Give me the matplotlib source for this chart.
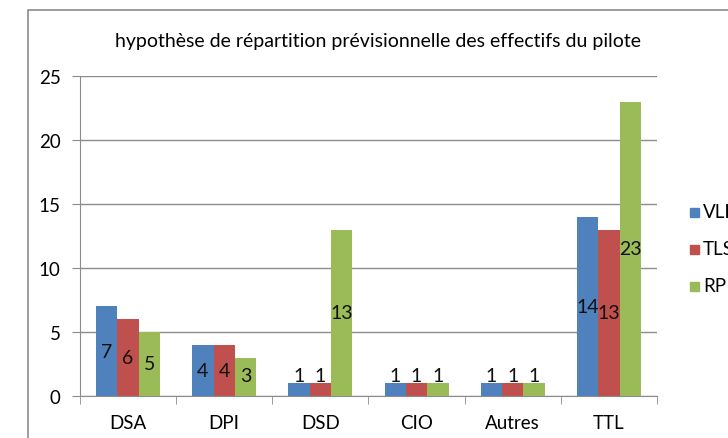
import matplotlib.pyplot as plt
from matplotlib.patches import Rectangle
import numpy as np

plt.rcParams['font.family'] = ['Lato', 'DejaVu Sans']

# data
categories = ['DSA', 'DPI', 'DSD', 'CIO', 'Autres', 'TTL']
series_names = ['VLI', 'TLS', 'RP']
vli = [7, 4, 1, 1, 1, 14]
tls = [6, 4, 1, 1, 1, 13]
rp = [5, 3, 13, 1, 1, 23]
y_ticks = [0, 5, 10, 15, 20, 25]

colors = ['#4F81BD', '#C0504D', '#9BBB59']
title = 'hypothèse de répartition prévisionnelle des effectifs du pilote'

fig = plt.figure(figsize=(7.28, 4.39), dpi=100)
ax = fig.add_axes([80 / 728, 1 - 397 / 439, 577 / 728, 320 / 439])

# outer chart frame (cut off on right and bottom)
fig.patches.append(Rectangle((28 / 728, -0.2), 2, 1 - 11 / 439 + 0.2,
                             transform=fig.transFigure, fill=False,
                             edgecolor='#8c8c8c', linewidth=1.2))

x = np.arange(len(categories))
w = 2 / 9
for i, (vals, col) in enumerate(zip([vli, tls, rp], colors)):
    pos = x + (i - 1) * w
    ax.bar(pos, vals, width=w, color=col, zorder=3, label=series_names[i])
    for px, v in zip(pos, vals):
        ax.text(px, max(v / 2, 1.6), str(v), ha='center', va='center',
                fontsize=14, color='#111111', zorder=4)

ax.set_xlim(-0.5, len(categories) - 0.5)
ax.set_ylim(0, 25)
ax.set_yticks(y_ticks)
ax.tick_params(axis='y', length=6, color='#8c8c8c', labelsize=13.5, pad=8)
ax.set_xticks(x)
ax.set_xticklabels(categories, fontsize=13.5)
ax.tick_params(axis='x', length=0, pad=13)
ax.set_xticks(np.arange(len(categories) + 1) - 0.5, minor=True)
ax.tick_params(axis='x', which='minor', length=6, color='#8c8c8c')
ax.grid(axis='y', color='#8c8c8c', linewidth=1, zorder=0)
for s in ['top', 'right']:
    ax.spines[s].set_visible(False)
for s in ['left', 'bottom']:
    ax.spines[s].set_color('#8c8c8c')
ax.spines['left'].set_zorder(5)

fig.text(378 / 728, 1 - 42 / 439, title, ha='center', va='center', fontsize=14)

# legend, partly cut off at the right edge like the original
for i, (name, col) in enumerate(zip(series_names, colors)):
    yc = 1 - (213 + i * 37) / 439
    fig.patches.append(Rectangle((690 / 728, yc - 4.5 / 439), 9 / 728, 9 / 439,
                                 transform=fig.transFigure, color=col))
    fig.text(703 / 728, yc, name, ha='left', va='center', fontsize=13.5)

fig.savefig('out.png', dpi=100)
